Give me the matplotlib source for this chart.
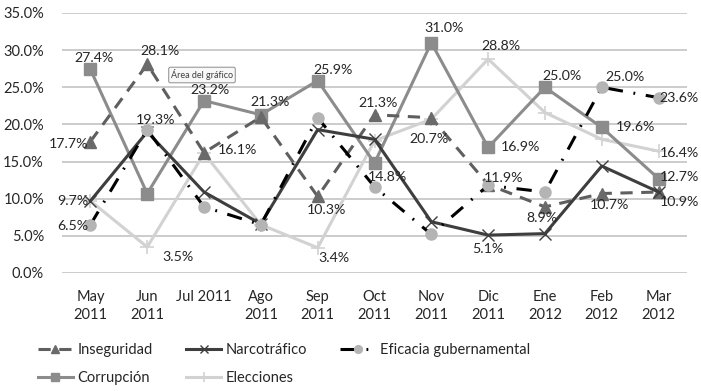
import matplotlib
matplotlib.use("Agg")
import matplotlib.pyplot as plt
from matplotlib.lines import Line2D

plt.rcParams['font.family'] = ['Lato', 'DejaVu Sans']

categories = ["May\n2011", "Jun\n2011", "Jul 2011", "Ago\n2011", "Sep\n2011", "Oct\n2011",
              "Nov\n2011", "Dic\n2011", "Ene\n2012", "Feb\n2012", "Mar\n2012"]

inseguridad = [17.7, 28.1, 16.2, 21.0, 10.3, 21.3, 20.9, 11.9, 8.9, 10.7, 10.9]
narcotrafico = [9.7, 19.0, 10.9, 6.6, 19.3, 18.0, 6.9, 5.1, 5.3, 14.4, 10.9]
eficacia = [6.5, 19.3, 8.9, 6.5, 20.9, 11.6, 5.2, 11.8, 10.9, 25.0, 23.6]
corrupcion = [27.4, 10.7, 23.2, 21.3, 25.9, 14.8, 31.0, 16.9, 25.0, 19.6, 12.7]
elecciones = [9.7, 3.5, 16.1, 6.5, 3.4, 17.8, 20.7, 28.8, 21.6, 18.0, 16.4]

series_names = ["Inseguridad", "Narcotráfico", "Eficacia gubernamental", "Corrupción", "Elecciones"]

# (series index, point index, dx px, dy px, ha)
labels = [
    (0, 0, -2, -2, 'right'), (0, 1, 13, 13, 'center'), (0, 4, 9, -14, 'center'),
    (0, 5, 4, 12, 'center'), (1, 7, 0, -14, 'center'), (0, 7, 15, 7, 'center'),
    (0, 8, -3, -11, 'center'), (0, 9, 8, -11, 'center'), (0, 10, 1, -10, 'left'),
    (1, 0, -2, 0, 'right'), (2, 0, -2, -1, 'right'), (2, 1, 8, 10, 'center'),
    (2, 9, 4, 10, 'left'), (2, 10, 1, 0, 'left'),
    (3, 0, 4, 11, 'center'), (3, 2, 6, 11, 'center'), (3, 3, 9, 13, 'center'),
    (3, 4, 15, 11, 'center'), (3, 5, 13, -14, 'center'), (3, 6, 13, 15, 'center'),
    (3, 7, 13, 0, 'left'), (3, 8, 17, 11, 'center'), (3, 9, 14, 0, 'left'),
    (3, 10, 1, 2, 'left'), (4, 1, 15, -10, 'left'), (4, 2, 14, 3, 'left'),
    (4, 4, 16, -10, 'center'), (4, 6, -2, -20, 'center'), (4, 7, 13, 13, 'center'),
    (4, 10, 1, -2, 'left'),
]

fig = plt.figure(figsize=(7.01, 3.91), dpi=100)
W, H = 701, 391
ax = fig.add_axes([62 / W, 1 - 273 / H, (687 - 62) / W, (273 - 13) / H])

x = list(range(len(categories)))
data = [inseguridad, narcotrafico, eficacia, corrupcion, elecciones]
pct = [[v / 100 for v in s] for s in data]

styles = [
    dict(color='#5f5f5f', lw=2.2, dashes=(4, 2.8), marker='^', ms=8, mfc='#6a6a6a', mec='#6a6a6a'),
    dict(color='#3e3e3e', lw=2.2, ls='-', marker='x', ms=8, mew=1.0, mec='#3e3e3e'),
    dict(color='#000000', lw=2.2, dashes=(5, 3.5, 0.6, 3.5), marker='o', ms=8, mfc='#b4b4b4', mec='#b4b4b4'),
    dict(color='#8c8c8c', lw=2.2, ls='-', marker='s', ms=8, mfc='#8c8c8c', mec='#8c8c8c'),
    dict(color='#d2d2d2', lw=2.2, ls='-', marker='+', ms=10, mew=1.2, mec='#d2d2d2'),
]

order = [4, 3, 0, 1, 2]
handles = {}
for i in order:
    ln, = ax.plot(x, pct[i], label=series_names[i], zorder=3 + order.index(i), **styles[i])
    handles[i] = ln

for (si, pi, dx, dy, ha) in labels:
    ax.annotate(f"{data[si][pi]:.1f}%", (x[pi], pct[si][pi]), xytext=(dx, dy),
                textcoords='offset pixels', ha=ha, va='center', fontsize=10.2,
                color='#262626', zorder=10, annotation_clip=False)

ax.set_xlim(-0.5, len(categories) - 0.5)
ax.set_ylim(0, 0.35)
ax.set_yticks([i * 0.05 for i in range(8)])
ax.set_yticklabels([f"{i * 5:.1f}%" for i in range(8)])
ax.set_xticks(x)
ax.set_xticklabels(categories, linespacing=1.4)
ax.tick_params(axis='both', length=0, labelsize=10.5, colors='#262626')
ax.tick_params(axis='y', pad=13)
ax.tick_params(axis='x', pad=12)
ax.grid(axis='y', color='#c4c4c4', lw=1.2)
ax.set_axisbelow(True)
for s in ax.spines.values():
    s.set_visible(False)

# tooltip artifact
fig.text(202 / W, 1 - 75 / H, "Área del gráfico", fontsize=6.5, color='#404040',
         ha='center', va='center',
         bbox=dict(boxstyle='round,pad=0.25,rounding_size=0.2', fc='#f8f8f8', ec='#9a9a9a', lw=0.8))

leg_order = [0, 3, 1, 4, 2]
leg = fig.legend([handles[i] for i in leg_order], [series_names[i] for i in leg_order],
                 ncol=3, loc='upper left', bbox_to_anchor=(32 / W, 1 - 337 / H),
                 frameon=False, fontsize=10.5, handlelength=2.4, columnspacing=2.3,
                 labelspacing=1.0, handletextpad=0.3, borderaxespad=0, markerscale=0.7)
for t in leg.get_texts():
    t.set_color('#262626')

fig.savefig("out.png", dpi=100)
